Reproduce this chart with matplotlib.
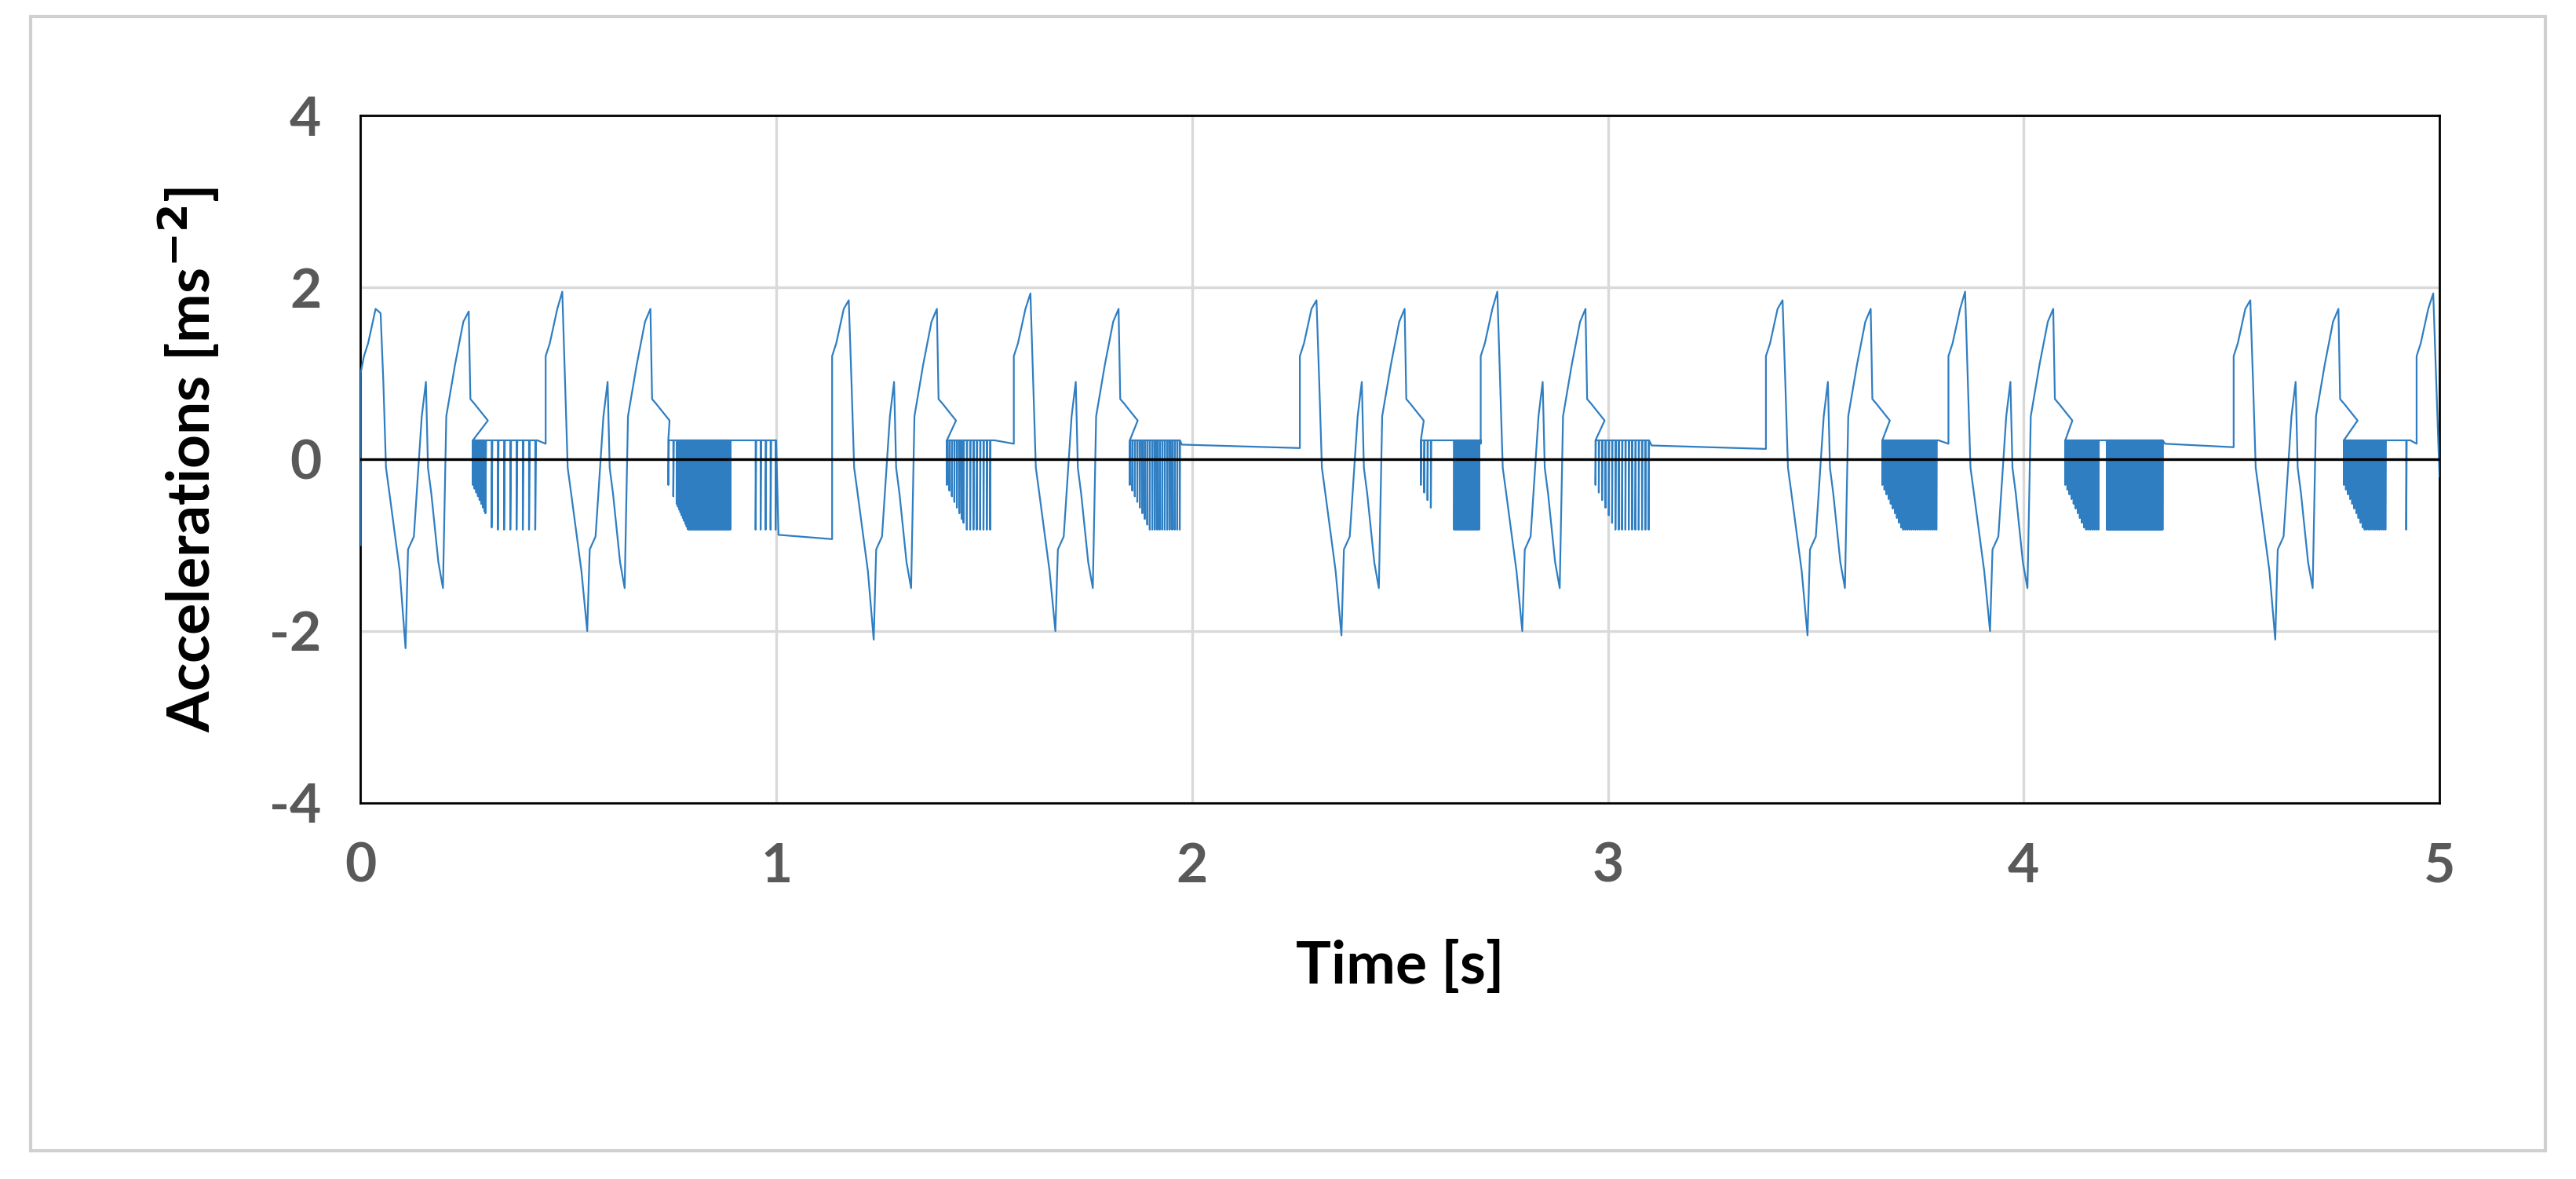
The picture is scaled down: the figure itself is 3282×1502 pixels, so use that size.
import matplotlib
matplotlib.use("Agg")
import matplotlib.pyplot as plt
from matplotlib.patches import Rectangle
import numpy as np

plt.rcParams['axes.unicode_minus'] = False

# ---- data ----
big_peak_t = [0.048, 0.485, 1.174, 1.611, 2.299, 2.734, 3.420, 3.859, 4.545, 4.985]
big_peak_v = [1.70, 1.95, 1.85, 1.93, 1.85, 1.95, 1.85, 1.95, 1.85, 1.93]
big_min_v = [-2.20, -2.00, -2.10, -2.00, -2.05, -2.00, -2.05, -2.00, -2.10, None]
second_peak_v = [1.72, 1.75, 1.75, 1.75, 1.75, 1.75, 1.75, 1.75, 1.75, None]
small_peak_v = [0.90, 0.90, 0.90, 0.90, 0.90, 0.90, 0.90, 0.90, 0.90, None]
chatter = [
    [(0.27, 0.30, 0.004), (0.30, 0.42, 0.015)],
    [(0.74, 0.76, 0.012), (0.76, 0.89, 0.003), (0.95, 1.00, 0.012)],
    [(1.41, 1.45, 0.006), (1.45, 1.52, 0.008)],
    [(1.85, 1.97, 0.006)],
    [(2.55, 2.58, 0.008), (2.63, 2.69, 0.003)],
    [(2.97, 3.10, 0.008)],
    [(3.66, 3.79, 0.005)],
    [(4.10, 4.18, 0.005), (4.20, 4.335, 0.002)],
    [(4.77, 4.87, 0.005), (4.92, 4.925, 0.01)],
    [],
]
rest_level = [0.22, -0.88, 0.22, 0.17, 0.22, 0.16, 0.22, 0.18, 0.22, None]
x_ticks = [0, 1, 2, 3, 4, 5]
y_ticks = [-4, -2, 0, 2, 4]

# relative shape of one stride (time offset from big peak, value or key)
shape = [(-0.040, 1.20), (-0.030, 1.35), (-0.012, 1.75), (0.0, 'P'), (0.0066, 0.90),
         (0.013, -0.10), (0.020, -0.35), (0.046, -1.30), (0.060, 'N'), (0.066, -1.05),
         (0.080, -0.90), (0.099, 0.50), (0.109, 'S'), (0.114, -0.10), (0.122, -0.40),
         (0.139, -1.20), (0.150, -1.50), (0.154, -0.50), (0.158, 0.50), (0.179, 1.10),
         (0.199, 1.60), (0.212, 'Q'), (0.216, 0.70), (0.225, 0.65), (0.258, 0.45)]

t_pts, v_pts = [0.0, 0.0], [-1.0, 1.0]
for i, tb in enumerate(big_peak_t):
    keys = {'P': big_peak_v[i], 'N': big_min_v[i], 'S': small_peak_v[i], 'Q': second_peak_v[i]}
    for dt, v in shape:
        t = tb + dt
        if t < 0.005:
            continue
        if t > 5.0:
            break
        if i == len(big_peak_t) - 1 and dt > 0.004:
            break
        t_pts.append(t)
        v_pts.append(keys[v] if isinstance(v, str) else v)
    if i == len(big_peak_t) - 1:
        t_pts += [5.0]
        v_pts += [-0.2]
        break
    cs0 = chatter[i][0][0] if chatter[i] else tb + 0.26
    upper = 0.22
    for (a, b, step) in chatter[i]:
        for t in np.arange(a, b + 1e-9, step):
            low = max(-0.82, -0.30 - (t - cs0) * 11.0)
            t_pts += [t, t, t + step * 0.12]
            v_pts += [upper, low, upper]
    nxt = big_peak_t[i + 1] - 0.040
    last = chatter[i][-1][1] if chatter[i] else tb + 0.26
    r = rest_level[i]
    t_pts += [last + 0.005, nxt]
    v_pts += [r, r - 0.04 if r > 0 else r - 0.05]

fig = plt.figure(figsize=(16.41, 7.51), dpi=200)
ax = fig.add_axes([0.140, 0.319, 0.807, 0.583])
fig.patches.append(Rectangle((0.012, 0.024), 0.976, 0.962, transform=fig.transFigure,
                             fill=False, edgecolor='#d0d0d0', linewidth=1.5))

ax.plot(t_pts, v_pts, color='#2F7EC2', linewidth=0.8, zorder=3)
ax.axhline(0, color='black', linewidth=1.2, zorder=4)
ax.set_xlim(0, 5)
ax.set_ylim(-4, 4)
ax.set_xticks(x_ticks)
ax.set_yticks(y_ticks)
ax.grid(True, color='#d9d9d9', linewidth=1.2, zorder=0)
ax.tick_params(length=0, pad=18, labelsize=25, labelcolor='#595959')
for lab in ax.get_xticklabels() + ax.get_yticklabels():
    lab.set_fontweight('bold')
    lab.set_family('Lato')
for s in ax.spines.values():
    s.set_color('black')
    s.set_linewidth(1.0)
ax.set_xlabel('Time [s]', fontsize=27, fontweight='bold', family='Lato', labelpad=22)
ax.set_ylabel('Accelerations [ms$^{\\mathbf{-2}}$]', fontsize=27, fontweight='bold',
              family='Lato', labelpad=22)
fig.savefig('out.png', dpi=200)
